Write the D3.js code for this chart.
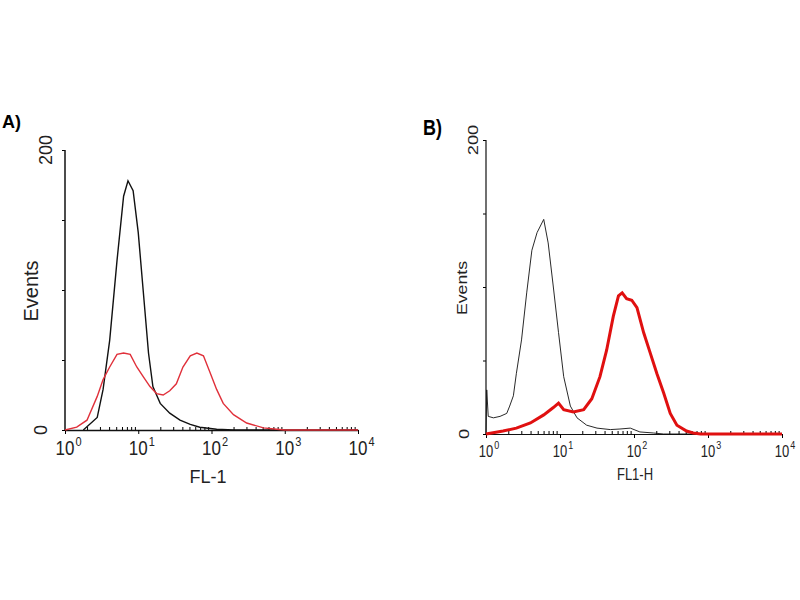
<!DOCTYPE html>
<html>
<head>
<meta charset="utf-8">
<script src="https://cdn.jsdelivr.net/npm/d3@7"></script>
<style>
  body { margin: 0; background: #fff; }
  text { font-family: "Liberation Sans", Arial, sans-serif; fill: #222; }
</style>
</head>
<body>
<script>
// x values are log10(FL) positions, y values are event counts
var aBlackLog = [0.25, 0.44, 0.52, 0.61, 0.71, 0.80, 0.86, 0.93, 1.00, 1.07, 1.14, 1.20, 1.30, 1.43, 1.57, 1.71, 1.84, 2.07, 2.3, 4];
var aBlackVal = [0, 9, 29, 64, 121, 167, 178, 171, 141, 98, 55, 31, 19, 12, 7, 4, 2, 0.5, 0, 0];

var aRedLog = [0, 0.16, 0.30, 0.44, 0.52, 0.61, 0.71, 0.80, 0.89, 0.98, 1.07, 1.16, 1.25, 1.34, 1.43, 1.52, 1.61, 1.71, 1.80, 1.89, 1.98, 2.07, 2.16, 2.30, 2.48, 2.71, 2.89, 3.0, 4];
var aRedVal = [0, 2, 7, 24, 36, 45, 54, 55, 54, 45, 38, 31, 26, 25, 28, 33, 45, 53, 55, 53, 41, 29, 19, 11, 5, 1.5, 0.5, 0, 0];

var bBlackLog = [0, 0.01, 0.03, 0.10, 0.19, 0.28, 0.32, 0.37, 0.41, 0.48, 0.55, 0.62, 0.69, 0.78, 0.84, 0.91, 0.98, 1.05, 1.14, 1.23, 1.36, 1.50, 1.68, 1.81, 1.95, 2.08, 2.26, 2.40, 4];
var bBlackVal = [0, 30, 12, 11, 12, 14, 19, 26, 41, 64, 96, 125, 137, 146, 130, 100, 69, 39, 19, 11, 6, 4, 3, 3.4, 4, 1.4, 0.7, 0, 0];

var bRedLog = [0, 0.23, 0.41, 0.60, 0.78, 0.91, 0.98, 1.05, 1.18, 1.32, 1.43, 1.54, 1.63, 1.72, 1.79, 1.84, 1.90, 1.97, 2.04, 2.13, 2.22, 2.31, 2.40, 2.49, 2.58, 2.71, 2.80, 2.90, 4];
var bRedVal = [0, 2, 4, 7.5, 13, 18, 21, 16.5, 15, 16.5, 24, 39, 57, 80, 94, 96, 92, 91, 86, 69, 55, 41, 28, 14, 6, 2, 0.7, 0, 0];

var decades = [0, 1, 2, 3, 4];
var yTicks = [0, 50, 100, 150, 200];
var yLabels = [0, 200];

var svg = d3.select("body").append("svg")
  .attr("width", 800)
  .attr("height", 600);

function zip(xs, ys) {
  return xs.map(function (x, i) { return { x: Math.pow(10, x), y: ys[i] }; });
}

// text placed at (x,y), stretched vertically by sy, optionally rotated
function label(g, x, y, sy, rot, size, anchor, str) {
  return g.append("text")
    .attr("transform", "translate(" + x + "," + y + ") scale(1," + sy + ")" + (rot ? " rotate(-90)" : ""))
    .attr("text-anchor", anchor)
    .attr("font-size", size)
    .text(str);
}

function panel(opt) {
  var x = d3.scaleLog().domain([1, 1e4]).range([opt.left, opt.right]);
  var y = d3.scaleLinear().domain([0, 200]).range([opt.bottom, opt.top]);
  var g = svg.append("g");

  // y axis
  g.append("g")
    .attr("transform", "translate(" + opt.left + ",0)")
    .call(d3.axisLeft(y).tickValues(yTicks).tickSize(3).tickFormat(""))
    .call(function (a) { a.select(".domain").remove(); });
  g.append("line")
    .attr("x1", opt.left).attr("x2", opt.left)
    .attr("y1", opt.top).attr("y2", opt.bottom)
    .attr("stroke", "#111").attr("stroke-width", opt.axisW);

  yLabels.forEach(function (v) {
    var bx = v === 0 ? opt.zeroX : opt.topX;
    label(g, bx, y(v), opt.sy, true, opt.yFont, "middle", v);
  });

  // x axis: major decade ticks down, minor ticks up
  var minor = [];
  decades.slice(0, 4).forEach(function (d) {
    for (var k = 2; k <= 9; k++) minor.push(k * Math.pow(10, d));
  });
  g.append("g")
    .attr("transform", "translate(0," + opt.bottom + ")")
    .call(d3.axisBottom(x).tickValues(decades.map(function (d) { return Math.pow(10, d); }))
      .tickSize(4).tickSizeOuter(0).tickFormat(""))
    .call(function (a) {
      a.select(".domain").attr("stroke", "#111").attr("stroke-width", opt.axisW);
    });
  g.append("g")
    .attr("transform", "translate(0," + opt.bottom + ")")
    .call(d3.axisTop(x).tickValues(minor).tickSize(3).tickFormat(""))
    .call(function (a) { a.select(".domain").remove(); });

  decades.forEach(function (d) {
    var tx = x(Math.pow(10, d));
    label(g, tx, opt.xLabelY, opt.xsy, false, opt.xFont, "middle", "10");
    label(g, tx + opt.xFont * 0.556 + 1, opt.xLabelY - opt.supUp, opt.xsy, false, opt.supFont, "start", d);
  });

  // curves
  var line = d3.line()
    .x(function (d) { return x(d.x); })
    .y(function (d) { return y(d.y); });

  g.append("path")
    .datum(zip(opt.blackLog, opt.blackVal))
    .attr("d", line)
    .attr("fill", "none")
    .attr("stroke", "#111")
    .attr("stroke-width", opt.blackW);

  g.append("path")
    .datum(zip(opt.redLog, opt.redVal))
    .attr("d", line)
    .attr("fill", "none")
    .attr("stroke", opt.redColor)
    .attr("stroke-width", opt.redW);

  // titles
  label(g, opt.yTitleX, opt.yTitleY, opt.sy, true, opt.yTitleFont, "middle", "Events");
  label(g, opt.xTitleX, opt.xTitleY, opt.sy, false, opt.xTitleFont, "middle", opt.xTitle);
  label(g, opt.tagX, opt.tagY, opt.sy, false, opt.tagFont, "start", opt.tag)
    .attr("font-weight", "bold")
    .style("fill", "#000");
}

panel({
  left: 65, right: 358, top: 150, bottom: 430, axisW: 1.5,
  blackLog: aBlackLog, blackVal: aBlackVal,
  redLog: aRedLog, redVal: aRedVal,
  blackW: 1.4, redW: 1.4, redColor: "#e0303a",
  sy: 1, yFont: 18, topX: 52, zeroX: 47,
  xFont: 17, supFont: 11, xsy: 1.2, xLabelY: 455, supUp: 9,
  yTitleFont: 20, yTitleX: 38, yTitleY: 291,
  xTitle: "FL-1", xTitleFont: 18, xTitleX: 208, xTitleY: 483,
  tag: "A)", tagFont: 18, tagX: 2, tagY: 128
});

panel({
  left: 486, right: 782, top: 140, bottom: 434, axisW: 1.2,
  blackLog: bBlackLog, blackVal: bBlackVal,
  redLog: bRedLog, redVal: bRedVal,
  blackW: 0.9, redW: 3, redColor: "#e01010",
  sy: 1.22, yFont: 15, topX: 478, zeroX: 469,
  xFont: 13, supFont: 9, xsy: 1.3, xLabelY: 457, supUp: 8,
  yTitleFont: 14.5, yTitleX: 467, yTitleY: 288,
  xTitle: "FL1-H", xTitleFont: 13, xTitleX: 635, xTitleY: 480,
  tag: "B)", tagFont: 18, tagX: 423, tagY: 135
});
</script>
</body>
</html>
